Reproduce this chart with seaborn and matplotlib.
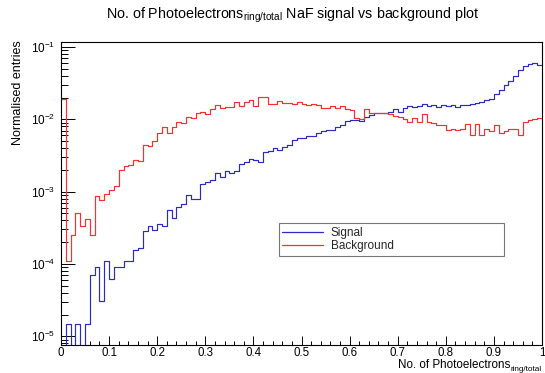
import numpy as np
import pandas as pd
import matplotlib
matplotlib.use("Agg")
import matplotlib.pyplot as plt
import seaborn as sns
from matplotlib.ticker import MultipleLocator, LogLocator, LogFormatterSciNotation, FuncFormatter, NullFormatter
from matplotlib.lines import Line2D

# ---------------- data ----------------
n_bins = 100
x_min, x_max = 0.0, 1.0

signal = [
    0, 1.5e-5, 0, 1.5e-5, 0, 1.5e-5, 7.1e-5, 9.1e-5, 3.1e-5, 1.1e-4,
    6.2e-5, 9.2e-5, 9.2e-5, 1.1e-4, 1.1e-4, 1.57e-4, 1.67e-4, 2.86e-4, 3.3e-4, 2.96e-4,
    3.6e-4, 3.3e-4, 5.5e-4, 4.3e-4, 6.2e-4, 6.8e-4, 9.0e-4, 7.9e-4, 7.9e-4, 1.29e-3,
    1.37e-3, 1.45e-3, 1.8e-3, 1.61e-3, 1.95e-3, 1.83e-3, 1.95e-3, 2.39e-3, 2.55e-3, 2.8e-3,
    2.74e-3, 2.6e-3, 3.57e-3, 3.7e-3, 4.05e-3, 3.77e-3, 4.2e-3, 4.4e-3, 5.2e-3, 5.5e-3,
    5.5e-3, 5.9e-3, 5.9e-3, 6.4e-3, 7.0e-3, 7.1e-3, 7.1e-3, 7.8e-3, 8.3e-3, 9.6e-3,
    9.8e-3, 9.8e-3, 9.6e-3, 1.09e-2, 1.15e-2, 1.21e-2, 1.23e-2, 1.23e-2, 1.27e-2, 1.37e-2,
    1.27e-2, 1.42e-2, 1.53e-2, 1.49e-2, 1.53e-2, 1.63e-2, 1.53e-2, 1.57e-2, 1.49e-2, 1.57e-2,
    1.53e-2, 1.57e-2, 1.49e-2, 1.56e-2, 1.59e-2, 1.64e-2, 1.69e-2, 1.73e-2, 1.83e-2, 1.93e-2,
    2.26e-2, 2.51e-2, 2.95e-2, 3.35e-2, 3.96e-2, 4.75e-2, 5.45e-2, 5.85e-2, 6.05e-2, 5.7e-2,
]

background = [
    1.89e-2, 1.1e-4, 2.55e-4, 5.1e-4, 3.4e-4, 4.2e-4, 2.55e-4, 8.6e-4, 7.6e-4, 9.4e-4,
    1.04e-3, 1.2e-3, 2.0e-3, 2.24e-3, 2.36e-3, 2.77e-3, 2.65e-3, 4.4e-3, 4.3e-3, 5.0e-3,
    6.5e-3, 7.8e-3, 6.5e-3, 7.9e-3, 9.3e-3, 9.0e-3, 1.09e-2, 1.03e-2, 1.21e-2, 1.25e-2,
    1.17e-2, 1.37e-2, 1.58e-2, 1.42e-2, 1.49e-2, 1.49e-2, 1.75e-2, 1.53e-2, 1.75e-2, 1.85e-2,
    1.53e-2, 2.05e-2, 2.01e-2, 1.63e-2, 1.63e-2, 1.81e-2, 1.66e-2, 1.66e-2, 1.63e-2, 1.75e-2,
    1.63e-2, 1.57e-2, 1.63e-2, 1.57e-2, 1.42e-2, 1.42e-2, 1.53e-2, 1.42e-2, 1.53e-2, 1.37e-2,
    1.34e-2, 1.03e-2, 1.0e-2, 1.37e-2, 1.21e-2, 1.23e-2, 1.23e-2, 1.21e-2, 1.17e-2, 1.11e-2,
    1.09e-2, 1.0e-2, 9.3e-3, 1.03e-2, 9.3e-3, 1.17e-2, 9.3e-3, 9.0e-3, 8.3e-3, 8.3e-3,
    7.1e-3, 7.3e-3, 7.1e-3, 7.3e-3, 8.7e-3, 6.1e-3, 8.7e-3, 6.0e-3, 7.3e-3, 6.8e-3,
    8.3e-3, 6.5e-3, 7.0e-3, 7.4e-3, 7.3e-3, 6.0e-3, 9.2e-3, 9.7e-3, 1.02e-2, 1.04e-2,
]

series_names = ["Signal", "Background"]
series_colors = {"Signal": "#2b2bc4", "Background": "#ff2e2e"}

title_text = r"No. of Photoelectrons$_{\mathrm{ring/total}}$ NaF signal vs background plot"
xlabel_main = "No. of Photoelectrons"
xlabel_sub = "ring/total"
ylabel_text = "Normalised entries"

# ---------------- style ----------------
sns.set_theme(style="white")
plt.rcParams['font.family'] = ['Liberation Sans', 'DejaVu Sans']
plt.rcParams['mathtext.fontset'] = 'custom'
plt.rcParams['mathtext.rm'] = 'Liberation Sans'
plt.rcParams['mathtext.it'] = 'Liberation Sans:italic'
plt.rcParams['mathtext.bf'] = 'Liberation Sans:bold'
plt.rcParams['mathtext.sf'] = 'Liberation Sans'

edges = np.linspace(x_min, x_max, n_bins + 1)
centers = 0.5 * (edges[:-1] + edges[1:])

df = pd.DataFrame({
    "x": np.concatenate([centers, centers]),
    "w": np.array(signal + background, dtype=float),
    "series": ["Signal"] * n_bins + ["Background"] * n_bins,
})

W, H = 545, 373
fig = plt.figure(figsize=(W / 100, H / 100), dpi=100)
ax = fig.add_axes([61 / W, 1 - 345 / H, (542 - 61) / W, (345 - 42) / H])

for name in series_names:
    sub = df[df["series"] == name]
    sns.histplot(data=sub, x="x", weights="w", bins=edges.tolist(), element="step",
                 fill=False, color=series_colors[name], linewidth=0.85, ax=ax)

ax.set_yscale("log", nonpositive="clip")
ax.set_xlim(x_min, x_max)
ax.set_ylim(7.6e-6, 0.117)

ax.xaxis.set_major_locator(MultipleLocator(0.1))
ax.xaxis.set_minor_locator(MultipleLocator(0.02))
ax.xaxis.set_major_formatter(FuncFormatter(lambda v, p: f"{v:g}"))
ax.yaxis.set_major_locator(LogLocator(base=10, numticks=20))
ax.yaxis.set_minor_locator(LogLocator(base=10, subs=np.arange(2, 10), numticks=20))
ax.yaxis.set_major_formatter(LogFormatterSciNotation())
ax.yaxis.set_minor_formatter(NullFormatter())

ax.tick_params(axis="both", which="both", direction="in", bottom=True, left=True,
               top=False, right=False, color="black", width=0.7,
               labelsize=8.5, labelcolor="black")
ax.tick_params(axis="x", which="major", length=6.5, pad=1.2, labelsize=8.3)
ax.tick_params(axis="x", which="minor", length=3.2)
ax.tick_params(axis="y", which="major", length=10.4, pad=4)
ax.tick_params(axis="y", which="minor", length=5.2)

for s in ax.spines.values():
    s.set_color("black")
    s.set_linewidth(0.8)
    s.set_visible(True)

# x-axis title: main text + subscript, right-aligned at the axis end
ax.set_xlabel("")
sub_txt = ax.text(1.0, (345 - 370.6) / 303, xlabel_sub, transform=ax.transAxes,
                  ha="right", va="baseline", fontsize=5.9, color="black")
ax.annotate(xlabel_main, xy=(0, 0), xycoords=sub_txt, xytext=(0, 3.0),
            textcoords="offset points", ha="right", va="baseline",
            fontsize=8.4, color="black", annotation_clip=False)

ax.set_ylabel(ylabel_text, loc="top", fontsize=9, color="black")
ax.yaxis.set_label_coords(-0.077, 1.005)

fig.text(293 / W, 1 - 15 / H, title_text, ha="center", va="center", fontsize=10.3, color="black")

handles = [Line2D([], [], color=series_colors[n], linewidth=0.9) for n in series_names]
leg = ax.legend(handles, series_names, loc="center", mode="expand",
                bbox_to_anchor=(0.453, 0.294, 0.467, 0.109), bbox_transform=ax.transAxes,
                fontsize=8.5, frameon=True, fancybox=False, borderpad=0.3,
                labelspacing=0.1, handlelength=3.4, handletextpad=0.7, borderaxespad=0)
leg.get_frame().set_edgecolor("#555555")
leg.get_frame().set_linewidth(0.8)
leg.get_frame().set_facecolor("white")

fig.savefig("out.png", dpi=100, facecolor="white")
